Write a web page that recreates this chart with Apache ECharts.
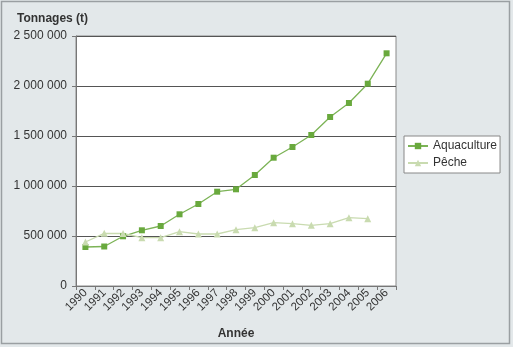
<!DOCTYPE html>
<html><head><meta charset="utf-8">
<script src="https://cdn.jsdelivr.net/npm/echarts@6/dist/echarts.min.js"></script>
<style>html,body{margin:0;padding:0;background:#e3e8ea}#c{width:513px;height:347px}</style>
</head><body><div id="c"></div>
<script>
var years = ['1990','1991','1992','1993','1994','1995','1996','1997','1998','1999','2000','2001','2002','2003','2004','2005','2006'];
var aquaculture = [390000, 395000, 497000, 557000, 600000, 717000, 820000, 943000, 967000, 1110000, 1283000, 1390000, 1510000, 1690000, 1830000, 2023000, 2327000];
var peche = [440000, 527000, 525000, 483000, 483000, 543000, 520000, 520000, 563000, 583000, 633000, 623000, 607000, 623000, 683000, 673000, null];
var yTicks = [0, 500000, 1000000, 1500000, 2000000, 2500000];

var chart = echarts.init(document.getElementById('c'));
function fmt(v){ return String(v).replace(/\B(?=(\d{3})+(?!\d))/g, ' '); }
chart.setOption({
  backgroundColor: '#e3e8ea',
  animation: false,
  textStyle: { fontFamily: 'Liberation Sans, Arial, sans-serif' },
  title: { text: 'Tonnages (t)', left: 12, top: 8, textStyle: { fontSize: 12, fontWeight: 'bold', color: '#333' } },
  graphic: [{ type: 'rect', shape: { x: 1.5, y: 1.5, width: 508, height: 342 }, style: { fill: null, stroke: '#9a9fa2', lineWidth: 1.5 }, silent: true }],
  grid: { left: 76, right: 117, top: 36, bottom: 61, show: true, backgroundColor: '#fff', borderColor: '#8a8a8a', borderWidth: 1 },
  legend: {
    orient: 'vertical', left: 404, top: 136, backgroundColor: '#fff', borderColor: '#888', borderWidth: 1,
    padding: [4, 3, 4, 3], itemGap: 5, itemWidth: 20, itemHeight: 8,
    textStyle: { fontSize: 12, color: '#333' },
    data: ['Aquaculture', 'Pêche']
  },
  xAxis: {
    type: 'category', data: years, boundaryGap: true,
    name: 'Année', nameLocation: 'middle', nameGap: 42,
    nameTextStyle: { fontSize: 12, fontWeight: 'bold', color: '#333' },
    axisLine: { lineStyle: { color: '#777' } },
    axisTick: { show: true, alignWithLabel: false, length: 4, lineStyle: { color: '#777' } },
    axisLabel: { rotate: 45, fontSize: 11.5, color: '#333', margin: 5, interval: 0 }
  },
  yAxis: {
    type: 'value', min: 0, max: 2500000, interval: 500000,
    axisLine: { show: true, lineStyle: { color: '#777' } },
    axisTick: { show: true, length: 4, lineStyle: { color: '#777' } },
    axisLabel: { fontSize: 12, color: '#333', margin: 9, formatter: function(v){ return fmt(v); } },
    splitLine: { lineStyle: { color: '#555' } }
  },
  series: [
    { name: 'Aquaculture', type: 'line', data: aquaculture, symbol: 'rect', symbolSize: 6,
      itemStyle: { color: '#69a93d' }, lineStyle: { color: '#7cb356', width: 1.3 } },
    { name: 'Pêche', type: 'line', data: peche, symbol: 'triangle', symbolSize: 7,
      itemStyle: { color: '#c9dbb0' }, lineStyle: { color: '#c9dbb0', width: 1.3 } }
  ]
});
</script></body></html>
